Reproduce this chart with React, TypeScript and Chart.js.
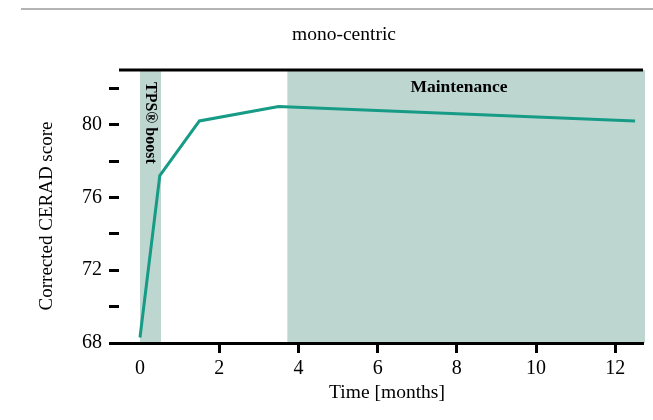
import React, { useEffect, useRef } from "react";
import { Chart, registerables } from "chart.js";

Chart.register(...registerables);

const months = [0, 0.5, 1.5, 3.5, 12.5];
const scores = [68.3, 77.2, 80.2, 81.0, 80.2];
const xTickValues = [0, 2, 4, 6, 8, 10, 12];
const yTickValues = [68, 70, 72, 74, 76, 78, 80, 82];
const yLabeledValues = [68, 72, 76, 80];
const phaseNames = ["TPS\u00ae boost", "Maintenance"];
const phaseStart = [0, 3.72];
const phaseEnd = [0.53, 12.75];

const FONT = "'Liberation Serif', 'Times New Roman', serif";
const BAND = "#bed6d0";
const LINE = "#169b86";

const decor = {
  id: "decor",
  beforeDraw(chart: any) {
    const { ctx, chartArea } = chart;
    const xs = chart.scales.x;
    ctx.save();
    ctx.fillStyle = BAND;
    for (let i = 0; i < phaseStart.length; i++) {
      const a = xs.getPixelForValue(phaseStart[i]);
      const b = xs.getPixelForValue(phaseEnd[i]);
      ctx.fillRect(a, chartArea.top, b - a, chartArea.bottom - chartArea.top);
    }
    ctx.restore();
  },
  afterDraw(chart: any) {
    const { ctx, chartArea } = chart;
    const xs = chart.scales.x;
    ctx.save();
    // page rule
    ctx.fillStyle = "#b4b4b4";
    ctx.fillRect(21, 8, 632, 2);
    // top frame line
    ctx.fillStyle = "#000";
    ctx.fillRect(chartArea.left, chartArea.top - 1.5, chartArea.right - chartArea.left, 3);
    // title
    ctx.fillStyle = "#000";
    ctx.font = `19.5px ${FONT}`;
    ctx.textAlign = "center";
    ctx.textBaseline = "middle";
    ctx.fillText("mono-centric", 344, 35);
    // x title
    ctx.fillText("Time [months]", 387, 393);
    // y title
    ctx.save();
    ctx.font = `19px ${FONT}`;
    ctx.translate(47, 216);
    ctx.rotate(-Math.PI / 2);
    ctx.fillText("Corrected CERAD score", 0, 0);
    ctx.restore();
    // phase labels
    ctx.font = `bold 16px ${FONT}`;
    const tpsX = (xs.getPixelForValue(phaseStart[0]) + xs.getPixelForValue(phaseEnd[0])) / 2;
    ctx.save();
    ctx.translate(tpsX, chartArea.top + 12);
    ctx.rotate(Math.PI / 2);
    ctx.textAlign = "left";
    ctx.textBaseline = "middle";
    ctx.fillText(phaseNames[0], 0, 0);
    ctx.restore();
    ctx.font = `bold 17.5px ${FONT}`;
    ctx.textAlign = "center";
    ctx.fillText(phaseNames[1], 459, 87);
    ctx.restore();
  },
};

export default function App() {
  const ref = useRef<HTMLCanvasElement | null>(null);
  useEffect(() => {
    if (!ref.current) return;
    const chart = new Chart(ref.current, {
      type: "line",
      data: {
        datasets: [
          {
            data: months.map((m, i) => ({ x: m, y: scores[i] })),
            borderColor: LINE,
            borderWidth: 3,
            pointRadius: 0,
            tension: 0,
            fill: false,
            clip: false as any,
          },
        ],
      },
      options: {
        responsive: false,
        animation: false,
        devicePixelRatio: 1,
        layout: { padding: { top: 70, right: 10, left: 0, bottom: 0 } },
        plugins: { legend: { display: false }, tooltip: { enabled: false }, title: { display: false } },
        scales: {
          x: {
            type: "linear",
            min: -0.53,
            max: 12.7,
            afterBuildTicks: (s: any) => {
              s.ticks = xTickValues.map((v) => ({ value: v }));
            },
            afterFit: (s: any) => {
              s.height = 77;
            },
            ticks: {
              color: "#000",
              font: { family: FONT, size: 20 },
              padding: 4,
              autoSkip: false,
              maxRotation: 0,
              callback: (v: any) => String(v),
            },
            grid: {
              drawOnChartArea: false,
              drawTicks: true,
              tickLength: 10,
              tickWidth: 3,
              tickColor: (c: any) => (c.tick && c.tick.value === 0 ? "rgba(0,0,0,0)" : "#000"),
            },
            border: { display: true, width: 3, color: "#000" },
          },
          y: {
            type: "linear",
            min: 68,
            max: 83,
            afterBuildTicks: (s: any) => {
              s.ticks = yTickValues.map((v) => ({ value: v }));
            },
            afterFit: (s: any) => {
              s.width = 119;
            },
            ticks: {
              color: "#000",
              font: { family: FONT, size: 20 },
              padding: 7,
              autoSkip: false,
              callback: (v: any) => (yLabeledValues.includes(v) ? String(v) : ""),
            },
            grid: {
              drawOnChartArea: false,
              drawTicks: true,
              tickLength: 10,
              tickWidth: 3,
              tickColor: "#000",
            },
            border: { display: false },
          },
        },
      },
      plugins: [decor],
    });
    return () => chart.destroy();
  }, []);
  return (
    <div style={{ position: "fixed", left: 0, top: 0, width: 653, height: 420, background: "#fff" }}>
      <canvas ref={ref} width={653} height={420} style={{ width: 653, height: 420, display: "block" }} />
    </div>
  );
}
